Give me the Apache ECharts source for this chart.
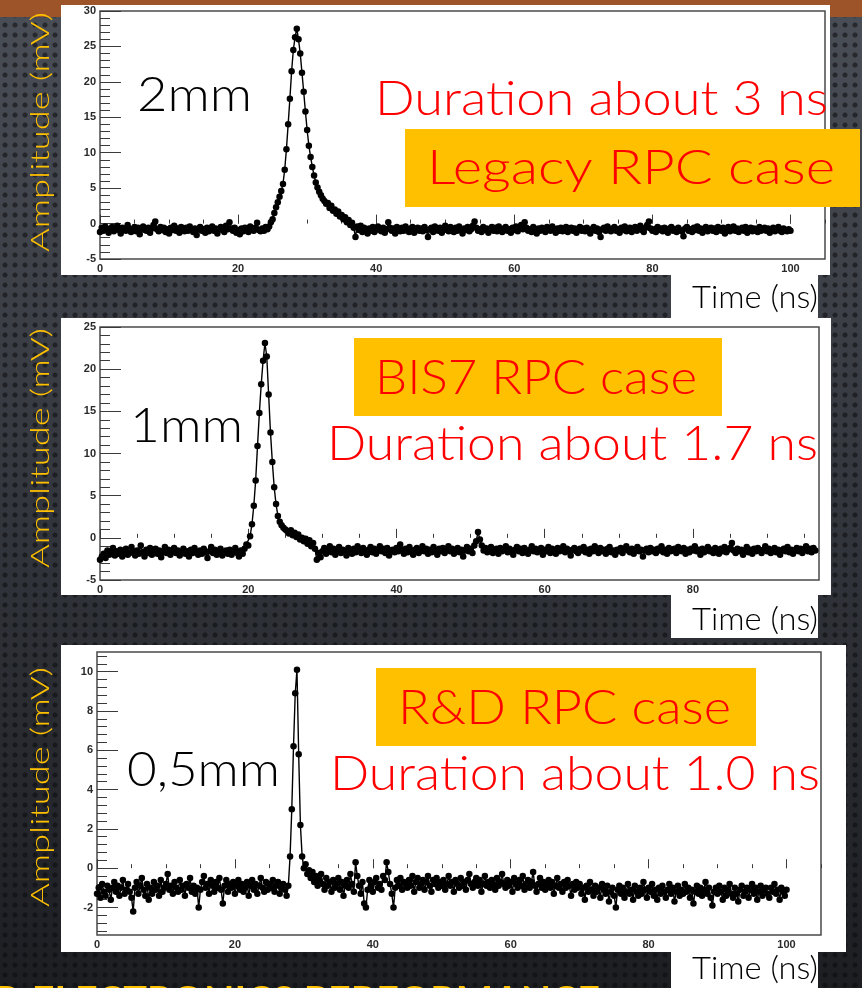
<!DOCTYPE html>
<html>
<head>
<meta charset="utf-8">
<title>RPC signal shapes</title>
<script src="https://cdn.jsdelivr.net/npm/echarts@6/dist/echarts.min.js"></script>
<style>
  html, body { margin: 0; padding: 0; }
  body {
    width: 862px; height: 988px; overflow: hidden;
    background:
      radial-gradient(circle at 5px 5px, rgba(10,10,12,0.55) 0, rgba(10,10,12,0.55) 2px, rgba(10,10,12,0) 3px) 0 0 / 10px 10px,
      linear-gradient(to bottom, #4a4e56 0%, #363940 45%, #1c1e22 100%);
  }
  #chart { width: 862px; height: 988px; }
</style>
</head>
<body>
<div id="chart"></div>
<script>
// scope samples, one every 0.25 ns starting at t = 0
const sampleStep = 0.25;

// 2 mm gap (legacy RPC), mV
const amp2mm = [
  -1.2,-0.6,-1.0,-0.4,-0.9,-1.3,-0.7,-0.5,-1.1,-0.8,
  -0.3,-0.9,-1.4,-0.6,-0.8,-1.0,-0.2,-0.7,-1.2,-0.9,
  -0.5,-1.1,-0.6,-1.5,-0.8,-0.4,-0.9,-1.0,-0.6,-1.3,
  -0.7,-0.2,0.3,-0.8,-1.1,-0.5,-0.9,-0.6,-1.2,-0.8,
  -1.4,-0.6,-0.9,-0.3,-1.0,-0.7,-1.3,-0.5,-0.8,-1.1,
  -0.6,-1.0,-0.4,-0.9,-1.2,-0.7,-1.6,-0.8,-0.5,-1.0,
  -0.8,-1.3,-0.6,-1.1,-0.9,-0.4,-1.0,-0.7,-1.4,-0.8,
  -0.5,-0.9,-1.2,-0.3,-0.8,0.2,-0.7,-1.0,-0.6,-1.3,
  -0.9,-1.5,-0.7,-1.1,-0.6,-0.9,-1.2,-0.4,-0.8,-1.0,
  -0.6,0.1,-0.9,-1.1,-0.7,-1.0,-0.5,-0.8,-0.4,0.2,
  0.6,1.5,2.3,3.0,3.8,4.6,5.6,7.6,10.5,14.0,
  17.6,21.5,24.5,26.3,27.5,26.0,24.0,21.3,18.6,15.8,
  13.2,11.0,9.4,8.0,6.8,5.8,5.1,4.5,4.0,3.5,
  3.2,2.8,2.9,2.2,2.5,1.8,2.0,1.4,1.7,1.0,
  1.2,0.6,0.9,0.2,0.5,-0.2,0.1,-0.6,-1.9,-0.4,
  -0.9,-0.3,-1.2,-0.6,-0.9,-1.4,
  -0.7,-1.0,-0.5,-1.2,-0.8,-0.4,-0.9,-1.1,-0.6,-1.3,
  -0.8,0.2,-0.6,-1.0,-0.7,-1.4,-0.5,-0.9,-1.1,-0.6,
  -1.0,-0.4,-0.8,-1.2,-0.7,-0.5,-1.3,-0.9,-0.6,-1.0,
  -0.7,-1.1,-0.5,-0.9,-1.9,-0.8,-0.6,-1.2,-0.4,-0.9,
  -1.0,-0.6,-1.3,-0.7,-0.3,-0.9,-1.1,-0.5,-0.8,-1.2,
  -0.6,-1.0,-0.4,-0.8,-1.4,-0.7,-0.9,-0.5,-1.1,-0.8,
  -0.3,0.3,-0.6,-1.0,-0.8,-1.2,-0.5,-0.9,-0.7,-1.3,
  -0.8,-0.5,-1.0,-0.6,-1.1,-0.4,-0.9,-1.2,-0.7,-0.5,
  -1.0,-0.8,-1.3,-0.6,-0.9,-0.4,-1.1,-0.7,-0.2,-0.8,
  0.2,-0.6,-1.0,-0.8,-1.2,-0.5,-0.9,-1.4,-0.7,-1.0,
  -0.6,-0.9,-1.2,-0.5,-0.8,-1.0,-0.4,-0.9,-1.3,-0.7,
  -1.0,-0.6,-1.1,-0.8,-0.5,-1.2,-0.9,-0.6,-1.0,-0.7,
  -1.3,-0.8,-0.5,-1.0,-0.7,-1.1,-0.6,-0.9,-1.4,-0.8,
  -0.5,-1.0,-0.7,-1.2,-1.9,-0.8,-0.6,-1.0,-0.4,-0.9,
  -1.1,-0.7,-0.5,-1.0,-0.8,-1.3,-0.6,-0.9,-0.4,-1.1,
  -0.8,-0.6,-1.2,-0.9,-0.5,-1.0,-0.7,-0.3,-0.9,-1.2,
  -0.6,-0.2,0.3,-0.7,-1.0,-0.8,-1.2,-0.5,-0.9,-0.7,
  -1.1,-0.6,-0.9,-1.3,-0.7,-0.5,-1.0,-0.8,-1.2,-0.6,
  -0.9,-1.1,-1.8,-0.7,-0.5,-1.0,-0.8,-1.2,-0.6,-0.9,
  -0.4,-1.0,-0.7,-1.3,-0.8,-0.5,-1.1,-0.9,-0.6,-1.0,
  -0.7,-1.2,-0.5,-0.9,-1.0,-0.6,-1.4,-0.8,-0.5,-1.1,
  -0.8,-0.4,-1.0,-0.7,-1.2,-0.9,-0.6,-1.0,-0.5,-1.3,
  -0.8,-0.6,-1.1,-0.7,-0.9,-1.2,-0.5,-1.0,-0.8,-0.6,
  -1.0,-0.7,-1.3,-0.9,-0.6,-1.1,-0.8,-0.5,-1.0,-1.2,
  -0.7,-0.9,-1.1,-0.8,-1.0
];

// 1 mm gap (BIS7 RPC), mV
const amp1mm = [
  -2.6,-2.2,-1.9,-2.4,-1.5,-2.0,-1.7,-1.2,-2.1,-1.6,
  -1.9,-1.4,-2.2,-1.7,-1.3,-2.0,-1.8,-1.1,-1.6,-2.1,
  -1.5,-1.9,-0.9,-1.7,-2.2,-1.4,-1.8,-1.2,-2.0,-1.6,
  -1.3,-1.9,-1.5,-2.3,-1.7,-1.1,-1.8,-1.4,-2.0,-1.6,
  -1.2,-1.8,-1.5,-2.1,-1.7,-1.3,-1.9,-1.6,-2.2,-1.4,
  -1.8,-1.2,-1.6,-2.0,-1.5,-1.9,-1.3,-1.7,-2.4,-1.6,
  -1.1,-1.8,-1.4,-2.0,-1.6,-1.3,-2.1,-1.7,-1.5,-1.9,
  -1.4,-2.0,-1.6,-1.2,-1.8,-2.2,-1.5,-1.9,-1.3,-0.8,
  -0.9,0.2,1.6,3.8,6.8,10.9,14.8,18.2,21.0,23.1,
  21.5,17.0,12.5,9.0,6.0,4.0,2.6,1.9,1.5,1.2,
  1.0,0.8,0.5,0.9,0.3,0.6,0.1,0.4,-0.2,0.0,
  -0.4,-0.1,-0.7,-0.3,-1.0,-0.6,-1.3,-2.6,-1.8,-2.3,
  -1.6,-1.2,-1.9,-1.4,-1.0,-1.7,-1.3,-2.0,-1.5,-1.1,
  -1.8,-1.4,-1.6,-2.1,-1.2,-1.5,-1.9,-1.3,-1.7,-1.0,
  -1.5,-1.8,-1.2,-1.6,-2.0,-1.4,-1.1,-1.7,-1.3,-1.9,
  -1.5,-1.0,-1.6,-1.3,-1.8,-1.2,-2.1,-1.5,-1.4,-1.7,
  -1.2,-1.6,-0.8,-1.4,-1.9,-1.3,-1.7,-1.1,-1.5,-2.0,
  -1.4,-1.2,-1.8,-1.5,-1.0,-1.6,-1.3,-1.9,-1.4,-1.7,
  -1.1,-1.5,-2.0,-1.3,-1.6,-1.2,-1.8,-1.4,-1.0,-1.6,
  -1.3,-1.9,-1.5,-1.2,-1.7,-1.4,-2.2,-1.5,-1.1,-1.6,
  -1.3,-1.8,-0.9,-0.4,0.7,-0.2,-0.9,-1.5,-1.2,-1.7,
  -1.4,-1.1,-1.8,-1.5,-1.3,-1.9,-1.2,-1.6,-1.4,-1.0,
  -1.7,-1.3,-1.5,-2.0,-1.4,-1.1,-1.6,-1.3,-1.8,-1.2,
  -1.5,-1.9,-1.4,-1.0,-1.6,-1.3,-1.7,-1.5,-1.2,-2.0,
  -1.4,-1.6,-1.1,-1.8,-1.3,-1.5,-1.9,-1.2,-1.6,-1.4,
  -1.0,-1.7,-1.3,-1.5,-2.1,-1.4,-1.2,-1.6,-1.8,-1.3,
  -1.5,-1.1,-1.7,-1.4,-1.9,-1.3,-1.6,-1.0,-1.5,-1.8,
  -1.2,-1.6,-1.4,-1.9,-1.3,-1.1,-1.7,-1.5,-2.0,-1.4,
  -1.6,-1.2,-1.8,-1.4,-1.0,-1.5,-1.7,-1.3,-1.9,-1.5,
  -1.1,-1.6,-1.4,-2.2,-1.5,-1.3,-1.7,-1.2,-1.6,-1.4,
  -1.8,-1.3,-1.5,-1.0,-1.7,-1.4,-1.9,-1.2,-1.6,-1.5,
  -1.3,-1.8,-1.1,-1.5,-1.6,-1.2,-1.9,-1.4,-1.7,-1.3,
  -1.5,-1.0,-1.6,-1.4,-2.0,-1.3,-1.7,-1.5,-1.1,-1.6,
  -1.4,-1.8,-1.2,-1.5,-1.9,-1.3,-1.6,-1.1,-1.7,-1.4,
  -1.2,-0.6,-1.5,-1.8,-1.3,-1.6,-1.4,-2.0,-1.5,-1.1,
  -1.7,-1.4,-1.9,-1.3,-1.6,-1.2,-1.5,-1.8,-1.4,-1.0,
  -1.6,-1.3,-1.8,-1.5,-1.2,-1.7,-1.4,-2.0,-1.5,-1.3,
  -1.6,-1.1,-1.7,-1.4,-1.9,-1.5,-1.2,-1.6,-1.3,-1.8,
  -1.4,-1.0,-1.6,-1.3,-1.7,-1.2,-1.5
];

// 0.5 mm gap (R&D RPC), mV
const amp05mm = [
  -1.3,-1.0,-1.5,-0.8,-1.2,-1.4,-0.9,-1.1,-1.6,-1.0,
  -0.7,-1.2,-0.9,-1.4,-1.0,-0.6,-1.3,-1.1,-0.8,-1.2,
  -1.5,-2.2,-1.0,-0.7,-1.3,-0.9,-0.5,-1.1,-1.4,-0.8,
  -1.6,-1.0,-1.3,-0.7,-1.1,-0.9,-1.4,-0.6,-1.2,-1.0,
  -0.8,-0.3,-1.1,-0.9,-1.3,-0.7,-1.0,-1.2,-0.6,-1.1,
  -0.9,-1.4,-0.8,-1.0,-0.5,-1.2,-0.9,-1.3,-1.0,-2.0,
  -1.1,-0.7,-0.4,-1.0,-0.8,-1.3,-0.6,-0.9,-1.2,-0.7,
  -1.0,-0.5,-1.1,-1.8,-0.9,-0.6,-1.2,-0.8,-1.0,-0.7,
  -1.3,-0.9,-0.6,-1.1,-0.8,-1.2,-1.0,-0.7,-1.4,-0.9,
  -0.6,-1.1,-0.8,-1.3,-0.9,-0.5,-1.0,-1.2,-0.7,-1.1,
  -0.8,-1.0,-0.6,-1.2,-0.9,-0.7,-1.3,-1.0,-0.8,-1.1,
  -1.4,-0.9,0.6,3.0,6.2,8.9,10.1,5.8,2.2,0.6,
  0.0,0.2,-0.3,-0.1,-0.5,-0.2,-0.7,-0.4,-0.9,-0.6,
  -0.3,-0.8,-1.1,-0.5,-0.9,-0.7,-1.2,-0.6,-1.0,-0.8,
  -0.5,-1.1,-0.7,-1.4,-0.9,-0.6,-1.0,-0.3,-0.8,-1.2,
  0.3,-0.4,-0.9,-1.3,-0.7,-1.8,-2.0,-1.1,-0.6,-0.9,
  -1.2,-0.7,-0.5,-1.0,-0.8,-1.1,-0.4,-0.6,0.3,-0.2,
  -0.8,-1.3,-2.0,-1.0,-0.6,-0.9,-0.5,-1.1,-0.7,-0.8,
  -1.0,-0.6,-0.9,-0.4,-1.2,-0.7,-0.5,-1.0,-0.8,-0.6,
  -1.1,-0.7,-0.4,-0.9,-1.2,-0.6,-0.8,-0.5,-1.0,-0.7,
  -0.9,-0.6,-1.1,-0.8,-0.4,-0.9,-0.7,-1.2,-0.6,-0.8,
  -1.0,-0.5,-0.9,-0.7,-1.1,-0.6,-0.3,-0.8,-1.0,-0.7,
  -0.5,-0.9,-0.6,-1.2,-0.8,-0.4,-0.9,-0.7,-1.0,-0.6,
  -0.8,-1.1,-0.5,-0.9,-0.7,-0.3,-0.8,-1.0,-0.6,-0.9,
  -0.7,-1.2,-0.5,-0.8,-1.0,-0.6,-0.9,-0.4,-1.1,-0.8,
  -0.6,-1.0,-0.7,-0.2,-0.9,-1.2,-0.8,-0.5,-1.0,-0.7,
  -1.1,-0.8,-0.6,-1.0,-0.7,-1.3,-0.9,-0.5,-1.0,-0.8,
  -1.2,-0.7,-1.0,-0.6,-0.9,-1.4,-0.8,-1.1,-0.7,-1.0,
  -0.8,-1.3,-1.0,-1.6,-0.9,-1.2,-0.7,-1.1,-1.4,-0.9,
  -1.2,-1.0,-1.5,-0.8,-1.1,-1.3,-0.9,-1.7,-1.2,-1.0,
  -1.4,-2.0,-1.1,-0.9,-1.3,-1.0,-1.5,-1.2,-0.8,-1.3,
  -1.1,-1.6,-0.9,-1.2,-1.4,-1.0,-1.3,-0.7,-1.1,-1.5,
  -1.0,-1.2,-0.8,-1.4,-1.1,-1.6,-1.0,-1.3,-0.9,-1.2,
  -1.5,-1.1,-0.8,-1.3,-1.0,-1.7,-1.2,-0.9,-1.4,-1.1,
  -1.3,-0.8,-1.2,-1.0,-1.5,-1.1,-1.8,-1.2,-0.9,-1.3,
  -1.0,-1.4,-1.1,-0.7,-1.3,-1.0,-1.5,-1.9,-1.2,-1.0,
  -1.3,-0.9,-1.2,-1.6,-1.0,-1.4,-1.1,-0.8,-1.3,-1.5,
  -1.0,-1.3,-1.7,-1.1,-0.9,-1.4,-1.2,-1.0,-1.5,-1.1,
  -0.8,-1.3,-1.0,-1.6,-1.2,-0.9,-1.4,-1.1,-1.0,-1.3,
  -1.5,-1.0,-1.2,-0.8,-1.3,-1.1,-1.6,-1.0,-1.2,-1.4,
  -1.1
];

// axis tick labels
const timeTicks = [0, 20, 40, 60, 80, 100];
const ampTicks2mm = [-5, 0, 5, 10, 15, 20, 25, 30];
const ampTicks1mm = [-5, 0, 5, 10, 15, 20, 25];
const ampTicks05mm = [-2, 0, 2, 4, 6, 8, 10];

const chart = echarts.init(document.getElementById('chart'), null, { renderer: 'canvas' });

const toPoints = amps => amps.map((v, i) => [i * sampleStep, v]);

function minorTicks(major, parts, lo, hi) {
  const step = (major[1] - major[0]) / parts;
  let v = major[0];
  while (v - step >= lo - 1e-9) v -= step;
  const out = [];
  for (; v <= hi + 1e-9; v += step) out.push(+v.toFixed(4));
  return out;
}

const panels = [
  { grid: { left: 100, top: 11, width: 725, height: 248 }, x: [0, 105], y: [-5, 30], yTicks: ampTicks2mm, yParts: 5, amps: amp2mm },
  { grid: { left: 100, top: 327, width: 719, height: 253 }, x: [0, 97], y: [-5, 25], yTicks: ampTicks1mm, yParts: 5, amps: amp1mm },
  { grid: { left: 97, top: 652, width: 724, height: 283 }, x: [0, 105], y: [-3.4, 11], yTicks: ampTicks05mm, yParts: 5, amps: amp05mm }
];

const labelFont = { color: '#2a2a2a', fontWeight: 'bold', fontSize: 11, fontFamily: 'Liberation Sans' };
const tickLine = { color: '#3a3a3a', width: 1 };

const grids = [], xAxes = [], yAxes = [], series = [];
panels.forEach((p, i) => {
  grids.push(Object.assign({ show: true, borderColor: '#4a4a4a', borderWidth: 1.5, backgroundColor: 'transparent', containLabel: false, outerBoundsMode: 'none' }, p.grid));
  // major ticks + labels
  xAxes.push({
    type: 'value', gridIndex: i, position: 'bottom', min: p.x[0], max: p.x[1],
    axisLine: { show: false }, splitLine: { show: false },
    axisTick: { inside: true, length: 9, lineStyle: tickLine, customValues: timeTicks },
    axisLabel: Object.assign({ margin: 4, customValues: timeTicks }, labelFont)
  });
  // minor ticks
  xAxes.push({
    type: 'value', gridIndex: i, position: 'bottom', min: p.x[0], max: p.x[1],
    axisLine: { show: false }, splitLine: { show: false }, axisLabel: { show: false },
    axisTick: { inside: true, length: 4, lineStyle: tickLine, customValues: minorTicks(timeTicks, 4, p.x[0], p.x[1]) }
  });
  yAxes.push({
    type: 'value', gridIndex: i, position: 'left', min: p.y[0], max: p.y[1],
    axisLine: { show: false }, splitLine: { show: false },
    axisTick: { inside: true, length: 21, lineStyle: tickLine, customValues: p.yTicks },
    axisLabel: Object.assign({ margin: 4, customValues: p.yTicks }, labelFont)
  });
  yAxes.push({
    type: 'value', gridIndex: i, position: 'left', min: p.y[0], max: p.y[1],
    axisLine: { show: false }, splitLine: { show: false }, axisLabel: { show: false },
    axisTick: { inside: true, length: 10, lineStyle: tickLine, customValues: minorTicks(p.yTicks, p.yParts, p.y[0], p.y[1]) }
  });
  series.push({
    type: 'line', xAxisIndex: 2 * i, yAxisIndex: 2 * i,
    data: toPoints(p.amps),
    symbol: 'circle', symbolSize: 6.5, showSymbol: true, showAllSymbol: true,
    itemStyle: { color: '#000' }, lineStyle: { color: '#000', width: 1.4 },
    silent: true, clip: true, z: 3
  });
});

// text placed over the slide, stretched to the widths seen in the slide
const measureCtx = document.createElement('canvas').getContext('2d');
function fitText(text, left, right, cy, size, color, weight) {
  const font = (weight || '300') + ' ' + size + 'px Lato';
  measureCtx.font = font;
  const w = measureCtx.measureText(text).width;
  return {
    type: 'text', x: left, y: cy, scaleX: (right - left) / w, z: 30,
    style: { text, font, fill: color, align: 'left', verticalAlign: 'middle', textAlign: 'left', textVerticalAlign: 'middle' }
  };
}
function axisTitle(cy) {
  const font = '300 26px Lato';
  measureCtx.font = font;
  const w = measureCtx.measureText('Amplitude (mV)').width;
  return {
    type: 'text', x: 41, y: cy, rotation: Math.PI / 2, scaleX: 240 / w, z: 30,
    style: { text: 'Amplitude (mV)', font, fill: '#FFC000', align: 'center', verticalAlign: 'middle', textAlign: 'center', textVerticalAlign: 'middle' }
  };
}
const rect = (x, y, w, h, fill, z) => ({ type: 'rect', shape: { x, y, width: w, height: h }, style: { fill }, z: z, silent: true });

const RED = '#FF0000', GOLD = '#FFC000';
const graphics = [
  rect(0, 0, 862, 17, '#9c5428', -20),
  rect(61, 5, 769, 270, '#ffffff', -10),
  rect(61, 318, 770, 277, '#ffffff', -10),
  rect(61, 645, 785, 307, '#ffffff', -10),
  rect(671, 275, 147, 43, '#ffffff', -10),
  rect(671, 595, 147, 43, '#ffffff', -10),
  rect(671, 952, 147, 36, '#ffffff', -10),
  fitText('Time (ns)', 692, 818, 298, 31, '#000'),
  fitText('Time (ns)', 692, 818, 620, 31, '#000'),
  fitText('Time (ns)', 692, 818, 969, 31, '#000'),
  axisTitle(132), axisTitle(448), axisTitle(787),
  // plot 1
  fitText('2mm', 137, 252, 96, 48, '#000'),
  fitText('Duration about 3 ns', 375, 828, 100, 47, RED),
  rect(405, 129, 455, 78, GOLD, 25),
  fitText('Legacy RPC case', 427, 835, 169, 47, RED),
  // plot 2
  rect(354, 338, 368, 78, GOLD, 25),
  fitText('BIS7 RPC case', 375, 697, 379, 47, RED),
  fitText('1mm', 130, 243, 427, 48, '#000'),
  fitText('Duration about 1.7 ns', 327, 818, 445, 47, RED),
  // plot 3
  rect(376, 668, 380, 78, GOLD, 25),
  fitText('R&D RPC case', 398, 731, 709, 47, RED),
  fitText('0,5mm', 127, 280, 771, 48, '#000'),
  fitText('Duration about 1.0 ns', 330, 820, 775, 47, RED),
  // slide footer, mostly cut off
  fitText('D ELECTRONICS PERFORMANCE', -8, 600, 1002, 38, GOLD, 'bold')
];

chart.setOption({
  animation: false,
  backgroundColor: 'transparent',
  grid: grids,
  xAxis: xAxes,
  yAxis: yAxes,
  series: series,
  graphic: { elements: graphics }
});
</script>
</body>
</html>
